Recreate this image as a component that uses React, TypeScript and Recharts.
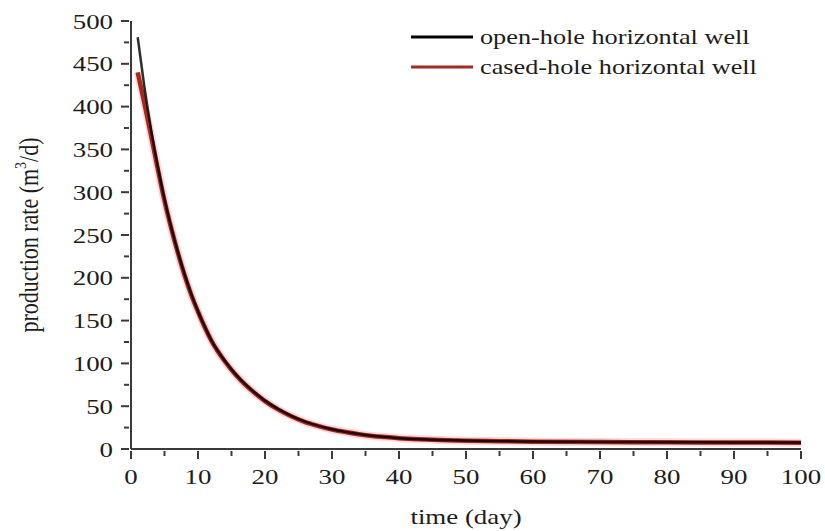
import React from 'react';
import { LineChart, Line, XAxis, YAxis, Legend } from 'recharts';

// time (day)
const days = [
  1, 2, 3, 4, 5, 6, 7, 8, 9, 10, 11, 12, 13, 14, 15, 16, 17, 18, 19, 20,
  22, 24, 26, 28, 30, 32, 34, 36, 38, 40, 43, 46, 50, 55, 60, 70, 80, 90, 100,
];

// production rate (m3/d)
const openHole = [
  481, 423, 373, 330, 292, 259, 230, 204, 181, 161, 143, 127, 114, 103, 93, 84, 76, 69, 62.5, 56.5,
  46.5, 38.5, 32, 27, 23, 20, 17.5, 15.5, 14, 12.7, 11.4, 10.5, 9.8, 9.2, 8.7, 8.2, 7.9, 7.7, 7.5,
];
const casedHole = [
  440, 404, 366, 327, 290, 258, 229, 203, 180, 160.5, 142.5, 126.5, 113.5, 102.5, 92.5, 83.5, 75.5, 68.5, 62, 56,
  46, 38, 31.5, 26.8, 22.8, 19.8, 17.3, 15.3, 13.9, 12.6, 11.3, 10.4, 9.7, 9.1, 8.6, 8.1, 7.8, 7.6, 7.4,
];

const seriesNames = ['open-hole horizontal well', 'cased-hole horizontal well'];

const xTicks = [0, 5, 10, 15, 20, 25, 30, 35, 40, 45, 50, 55, 60, 65, 70, 75, 80, 85, 90, 95, 100];
const yTicks = [0, 25, 50, 75, 100, 125, 150, 175, 200, 225, 250, 275, 300, 325, 350, 375, 400, 425, 450, 475, 500];

const data = days.map((d, i) => ({ day: d, open: openHole[i], cased: casedHole[i] }));

const FONT = '"Liberation Serif", "Times New Roman", serif';
const INK = '#1c1c1c';
const AXIS = '#3a3a3a';
const STRETCH = 1.25;

function XTick(props: any) {
  const { x, y, payload } = props;
  const major = payload.value % 10 === 0;
  return (
    <g>
      <line x1={x} x2={x} y1={y} y2={y + (major ? 8 : 5)} stroke={AXIS} strokeWidth={2} />
      {major && (
        <text
          transform={`translate(${x},${y + 33}) scale(${STRETCH},1)`}
          textAnchor="middle"
          fontFamily={FONT}
          fontSize={21.5}
          fill={INK}
        >
          {payload.value}
        </text>
      )}
    </g>
  );
}

function YTick(props: any) {
  const { x, y, payload } = props;
  const major = payload.value % 50 === 0;
  return (
    <g>
      <line x1={x} x2={x - (major ? 8 : 5)} y1={y} y2={y} stroke={AXIS} strokeWidth={2} />
      {major && (
        <text
          transform={`translate(${x - 16},${y + 7.5}) scale(${STRETCH},1)`}
          textAnchor="end"
          fontFamily={FONT}
          fontSize={21.5}
          fill={INK}
        >
          {payload.value}
        </text>
      )}
    </g>
  );
}

function YLabel(props: any) {
  const { viewBox } = props;
  const cy = viewBox.y + viewBox.height / 2;
  return (
    <text
      transform={`translate(38,${cy}) rotate(-90) scale(1,${STRETCH})`}
      textAnchor="middle"
      fontFamily={FONT}
      fontSize={22}
      fill={INK}
    >
      production rate (m
      <tspan fontSize={14} dy={-10}>3</tspan>
      <tspan dy={10}>/d)</tspan>
    </text>
  );
}

function XLabel(props: any) {
  const { viewBox } = props;
  const cx = viewBox.x + viewBox.width / 2;
  return (
    <text
      transform={`translate(${cx},524) scale(${STRETCH},1)`}
      textAnchor="middle"
      fontFamily={FONT}
      fontSize={21.5}
      fill={INK}
    >
      time (day)
    </text>
  );
}

function LegendBox(props: any) {
  const items = (props.payload || []).filter((p: any) => seriesNames.includes(p.value));
  items.sort((a: any, b: any) => seriesNames.indexOf(a.value) - seriesNames.indexOf(b.value));
  return (
    <svg width={400} height={70}>
      {items.map((p: any, i: number) => (
        <g key={p.value}>
          <line x1={11} x2={73} y1={17 + i * 30} y2={17 + i * 30} stroke={p.color} strokeWidth={3} />
          <text
            transform={`translate(80,${23.5 + i * 30}) scale(${STRETCH},1)`}
            fontFamily={FONT}
            fontSize={21}
            fill={INK}
          >
            {p.value}
          </text>
        </g>
      ))}
    </svg>
  );
}

export default function App() {
  return (
    <div style={{ position: 'absolute', left: 0, top: 0, width: 825, height: 531, background: '#fff' }}>
      <LineChart width={825} height={531} data={data} margin={{ top: 21, right: 24, bottom: 22, left: 71 }}>
        <XAxis
          dataKey="day"
          type="number"
          domain={[0, 100]}
          ticks={xTicks}
          interval={0}
          height={60}
          tickSize={0}
          tickLine={false}
          tick={<XTick />}
          axisLine={{ stroke: AXIS, strokeWidth: 2 }}
          label={<XLabel />}
        />
        <YAxis
          type="number"
          domain={[0, 500]}
          ticks={yTicks}
          interval={0}
          width={60}
          tickSize={0}
          tickLine={false}
          tick={<YTick />}
          axisLine={{ stroke: AXIS, strokeWidth: 2 }}
          label={<YLabel />}
        />
        <Legend
          layout="vertical"
          verticalAlign="middle"
          align="center"
          wrapperStyle={{ top: 20, left: 400, width: 400, height: 70 }}
          content={<LegendBox />}
        />
        {/* soft halo around the red curve */}
        <Line
          dataKey="cased"
          name="halo"
          type="monotone"
          stroke="#f0a0a0"
          strokeOpacity={0.4}
          strokeWidth={8}
          dot={false}
          activeDot={false}
          legendType="none"
          isAnimationActive={false}
        />
        <Line
          dataKey="cased"
          name={seriesNames[1]}
          type="monotone"
          stroke="#a8281f"
          strokeWidth={4.5}
          dot={false}
          activeDot={false}
          isAnimationActive={false}
        />
        <Line
          dataKey="open"
          name={seriesNames[0]}
          type="monotone"
          stroke="#000"
          strokeOpacity={0.82}
          strokeWidth={2.5}
          dot={false}
          activeDot={false}
          isAnimationActive={false}
        />
      </LineChart>
    </div>
  );
}
